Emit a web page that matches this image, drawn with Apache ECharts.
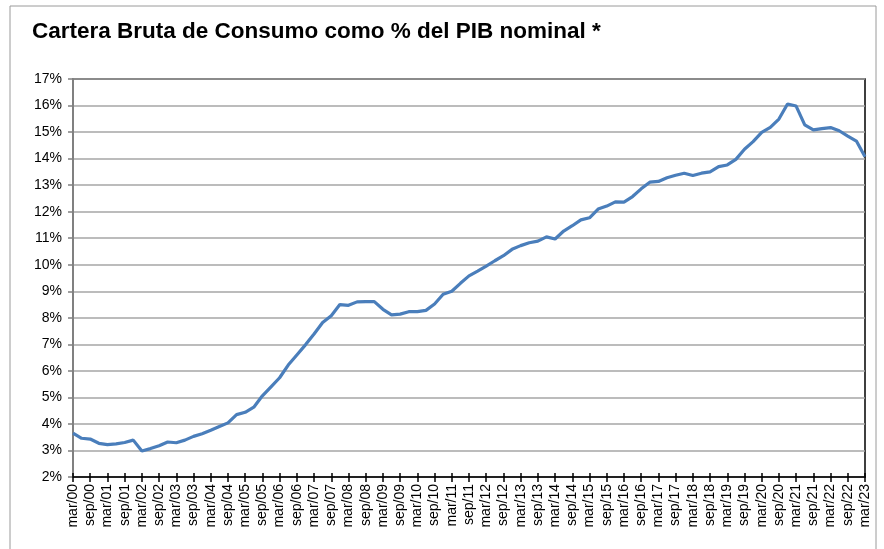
<!DOCTYPE html>
<html>
<head>
<meta charset="utf-8">
<script src="https://cdn.jsdelivr.net/npm/echarts@6/dist/echarts.min.js"></script>
<style>
  html, body { margin: 0; padding: 0; background: #ffffff; }
  #chart { width: 884px; height: 549px; }
</style>
</head>
<body>
<div id="chart"></div>
<script>
// Quarterly consumer loan portfolio as a share of nominal GDP (%), mar/00 .. mar/23
const quarterMonths = ['mar', 'jun', 'sep', 'dic'];
const firstYear = 0;
const lastYear = 23;

const carteraPct = [
  3.65, 3.46, 3.43, 3.27, 3.22, 3.25, 3.30, 3.39,   // 2000-2001
  2.98, 3.07, 3.18, 3.32, 3.29, 3.39, 3.53, 3.63,   // 2002-2003
  3.76, 3.90, 4.04, 4.35, 4.44, 4.63, 5.06, 5.40,   // 2004-2005
  5.74, 6.22, 6.60, 6.98, 7.39, 7.82, 8.08, 8.50,   // 2006-2007
  8.47, 8.60, 8.61, 8.61, 8.32, 8.11, 8.14, 8.23,   // 2008-2009
  8.23, 8.28, 8.52, 8.89, 9.00, 9.30, 9.58, 9.76,   // 2010-2011
  9.95, 10.15, 10.34, 10.58, 10.72, 10.83, 10.89, 11.05, // 2012-2013
  10.97, 11.27, 11.47, 11.69, 11.77, 12.10, 12.21, 12.37, // 2014-2015
  12.36, 12.57, 12.86, 13.11, 13.14, 13.28, 13.37, 13.45, // 2016-2017
  13.36, 13.45, 13.50, 13.70, 13.76, 13.97, 14.35, 14.64, // 2018-2019
  14.99, 15.18, 15.49, 16.06, 15.98, 15.27, 15.08, 15.13, // 2020-2021
  15.17, 15.05, 14.85, 14.66, 14.07                       // 2022-mar/23
];

// Category labels like "mar/00", "jun/00", ...
const quarters = [];
for (let y = firstYear; y <= lastYear; y++) {
  for (const m of quarterMonths) {
    if (quarters.length < carteraPct.length) {
      quarters.push(m + '/' + String(y).padStart(2, '0'));
    }
  }
}

const yMin = 2;
const yMax = 17;
const yStep = 1;

const chart = echarts.init(document.getElementById('chart'), null, { renderer: 'canvas' });

const axisFont = 'Liberation Sans, Arial, sans-serif';

chart.setOption({
  backgroundColor: '#ffffff',
  animation: false,
  title: {
    text: 'Cartera Bruta de Consumo como % del PIB nominal *',
    left: 27,
    top: 15,
    textStyle: {
      fontFamily: 'Liberation Sans, Arial, sans-serif',
      fontWeight: 'bold',
      fontSize: 22.5,
      color: '#000000'
    }
  },
  graphic: [
    {
      // outer frame around the whole chart
      type: 'rect',
      shape: { x: 10, y: 6, width: 866, height: 560 },
      style: { fill: 'none', stroke: '#9a9a9a', lineWidth: 1 },
      silent: true
    }
  ],
  grid: {
    left: 73,
    right: 19,
    top: 79,
    bottom: 72,
    show: true,
    borderColor: '#000000',
    borderWidth: 1.5,
    backgroundColor: 'transparent'
  },
  xAxis: [
    {
      type: 'category',
      data: quarters,
      boundaryGap: false,
      axisLine: { lineStyle: { color: '#000000', width: 1.5 } },
      axisTick: {
        interval: 1,
        length: 5,
        lineStyle: { color: '#000000', width: 1.5 }
      },
      axisLabel: {
        interval: 1,
        rotate: 90,
        margin: 7,
        fontFamily: axisFont,
        fontSize: 14,
        color: '#000000'
      },
      splitLine: { show: false }
    },
    {
      // inner half of the crossing tick marks on the category axis
      type: 'category',
      data: quarters,
      boundaryGap: false,
      position: 'bottom',
      axisLine: { show: false },
      axisTick: {
        interval: 1,
        inside: true,
        length: 4,
        lineStyle: { color: '#000000', width: 1.5 }
      },
      axisLabel: { show: false },
      splitLine: { show: false }
    }
  ],
  yAxis: {
    type: 'value',
    min: yMin,
    max: yMax,
    interval: yStep,
    axisLine: { show: true, lineStyle: { color: '#808080', width: 2 } },
    axisTick: { show: true, length: 5, lineStyle: { color: '#808080', width: 1.5 } },
    axisLabel: {
      formatter: '{value}%',
      margin: 11,
      fontFamily: axisFont,
      fontSize: 14,
      color: '#000000'
    },
    splitLine: { show: true, lineStyle: { color: '#a6a6a6', width: 1.5 } }
  },
  series: [
    {
      name: 'Cartera Bruta de Consumo / PIB',
      type: 'line',
      data: carteraPct,
      showSymbol: false,
      symbol: 'none',
      lineStyle: { color: '#4a7ebb', width: 3.2 },
      z: 5
    }
  ]
});
</script>
</body>
</html>
